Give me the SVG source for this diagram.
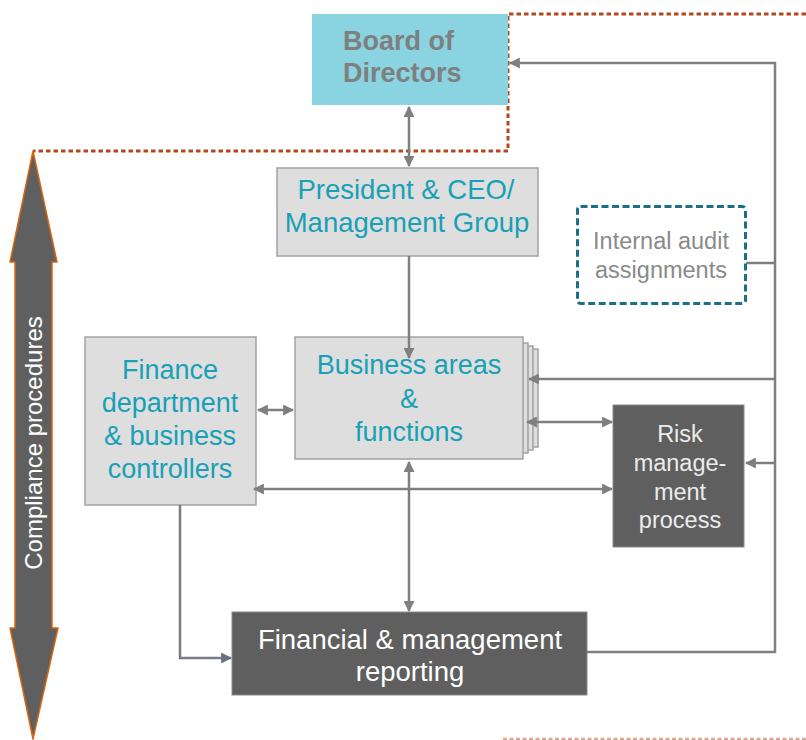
<svg xmlns="http://www.w3.org/2000/svg" width="806" height="740" viewBox="0 0 806 740">
<defs>
<marker id="ah" viewBox="0 0 10 10" refX="9" refY="5" markerWidth="4.4" markerHeight="4.4" orient="auto-start-reverse" markerUnits="strokeWidth">
<path d="M0,0 L10,5 L0,10 Z" fill="#7f7f7f"/>
</marker>
<marker id="ahb" viewBox="0 0 10 10" refX="9" refY="5" markerWidth="4.4" markerHeight="4.4" orient="auto-start-reverse" markerUnits="strokeWidth">
<path d="M0,0 L10,5 L0,10 Z" fill="#6b7184"/>
</marker>
</defs>
<style>
.box{fill:#dedede;stroke:#a2a2a2;stroke-width:1.5}
.dark{fill:#5f5f5f;stroke:#8a8a8a;stroke-width:1}
.teal{font-family:"Liberation Sans",Arial,sans-serif;fill:#18a0b6;text-anchor:middle}
.wt{font-family:"Liberation Sans",Arial,sans-serif;fill:#ffffff;text-anchor:middle}
.lt{font-family:"Liberation Sans",Arial,sans-serif;text-anchor:middle}
.con{fill:none;stroke:#7f7f7f;stroke-width:2.5}
.dot{fill:none;stroke:#b4471c;stroke-width:3;stroke-dasharray:4.5,3}
</style>

<!-- dotted boundary -->
<g id="boundary">
<path class="dot" d="M806,14 L508,14 L508,151 L33,151"/>
<line x1="503" y1="739" x2="806" y2="739" stroke="#d9a994" stroke-width="2.5" stroke-dasharray="4,2.5"/>
</g>

<!-- compliance arrow -->
<g id="compliance">
<path d="M33,151 L57,262 L52,262 L52,628 L58,628 L33,739 L10,628 L15,628 L15,262 L10,262 Z" fill="#5f5f5f" stroke="#d9650f" stroke-width="1.5" stroke-linejoin="round"/>
<text class="wt" x="33" y="443" font-size="24" fill="#f2f2f2" transform="rotate(-90 33 443)" dy="8.5">Compliance procedures</text>
</g>

<g id="board">
<rect x="312" y="14" width="196" height="91" fill="#8ad3e0"/>
<text x="343" y="50" font-family="Liberation Sans,Arial,sans-serif" font-weight="bold" font-size="27" fill="#7f7f7f">Board of</text>
<text x="343" y="82" font-family="Liberation Sans,Arial,sans-serif" font-weight="bold" font-size="27" fill="#7f7f7f">Directors</text>
</g>

<g id="president">
<rect class="box" x="277" y="168" width="261" height="88"/>
<text class="teal" x="406" y="199" font-size="27.5">President &amp; CEO/</text>
<text class="teal" x="407" y="232" font-size="27.5">Management Group</text>
</g>

<g id="business">
<rect class="box" x="300" y="349" width="238" height="98"/>
<rect class="box" x="298" y="346" width="235" height="104"/>
<rect class="box" x="296" y="343" width="232" height="110"/>
<rect class="box" x="295" y="337" width="228" height="122"/>
<text class="teal" x="409" y="374" font-size="27">Business areas</text>
<text class="teal" x="409" y="408" font-size="27">&amp;</text>
<text class="teal" x="409" y="441" font-size="27">functions</text>
</g>

<g id="finance">
<rect class="box" x="85" y="337" width="171" height="168"/>
<text class="teal" x="170" y="379" font-size="27">Finance</text>
<text class="teal" x="170" y="412" font-size="27">department</text>
<text class="teal" x="170" y="445" font-size="27">&amp; business</text>
<text class="teal" x="170" y="478" font-size="27">controllers</text>
</g>

<g id="audit">
<rect x="577.5" y="206.5" width="168" height="97" rx="3" fill="none" stroke="#1b6f86" stroke-width="3" stroke-dasharray="7,3.5"/>
<text class="lt" x="661" y="249" font-size="23.5" fill="#8a8a8a">Internal audit</text>
<text class="lt" x="661" y="278" font-size="23.5" fill="#8a8a8a">assignments</text>
</g>

<g id="risk">
<rect class="dark" x="613" y="405" width="131" height="142"/>
<text class="lt" x="680" y="442" font-size="23.5" fill="#ececec">Risk</text>
<text class="lt" x="680" y="471" font-size="23.5" fill="#ececec">manage-</text>
<text class="lt" x="680" y="500" font-size="23.5" fill="#ececec">ment</text>
<text class="lt" x="680" y="528" font-size="23.5" fill="#ececec">process</text>
</g>

<g id="reporting">
<rect class="dark" x="232" y="612" width="355" height="83"/>
<text class="wt" x="410" y="649" font-size="27.5">Financial &amp; management</text>
<text class="wt" x="410" y="681" font-size="27.5">reporting</text>
</g>

<!-- connectors -->
<g id="connectors">
<line class="con" x1="409" y1="107" x2="409" y2="166" marker-start="url(#ah)" marker-end="url(#ah)"/>
<line class="con" x1="409" y1="256" x2="409" y2="358" marker-end="url(#ah)"/>
<line class="con" x1="258" y1="410" x2="293" y2="410" marker-start="url(#ah)" marker-end="url(#ah)"/>
<line class="con" x1="527" y1="422" x2="612" y2="422" marker-start="url(#ah)" marker-end="url(#ah)"/>
<line class="con" x1="254" y1="489" x2="612" y2="489" marker-start="url(#ah)" marker-end="url(#ah)"/>
<line class="con" x1="409" y1="462" x2="409" y2="611" marker-start="url(#ah)" marker-end="url(#ah)"/>
<path class="con" d="M587,652 L775,652 L775,63 L510,63" marker-end="url(#ah)"/>
<line class="con" x1="746" y1="263" x2="775" y2="263"/>
<line class="con" x1="775" y1="379" x2="529" y2="379" marker-end="url(#ah)"/>
<line class="con" x1="775" y1="463" x2="746" y2="463" marker-end="url(#ah)"/>
<path d="M180,505 L180,658 L231,658" fill="none" stroke="#7a7d88" stroke-width="2.5" marker-end="url(#ahb)"/>
</g>
</svg>
